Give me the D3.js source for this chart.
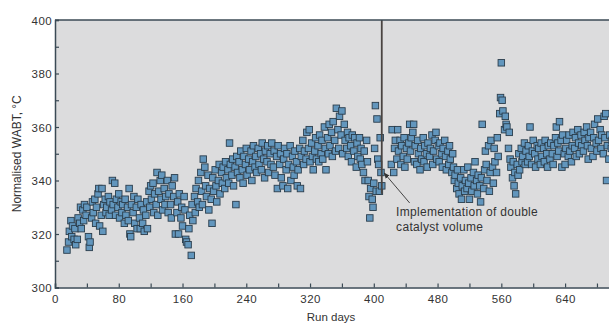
<!DOCTYPE html>
<html>
<head>
<meta charset="utf-8">
<script src="https://cdn.jsdelivr.net/npm/d3@7"></script>
<style>
  body { margin: 0; background: #fff; }
  svg { display: block; font-family: "Liberation Sans", Arial, sans-serif; }
</style>
</head>
<body>
<svg id="chart" width="609" height="325"></svg>
<script>
// first run day with a reading, then one WABT value per day (null = no reading)
const firstDay = 15;
const wabt = [
  314, null, 317, 321, null, 325, 319, 323, null, 318,
  322, 316, null, 318, 326, null, 324, 330, 322, null,
  329, 325, 331, null, 327, 330, null, 319, 315, 317,
  null, 326, 332, 328, null, 333, 324, 330, null, 335,
  337, 323, null, 327, 337, 321, 331, null, 333, 328,
  330, null, 334, 327, 332, null, 329, 340, 331, null,
  339, 327, 333, null, 330, 335, 326, null, 332, 328,
  331, null, 324, 333, 327, null, 330, 325, 337, 320,
  319, 331, null, 328, 334, 324, null, 330, 322, 333,
  null, 326, 322, 331, null, 324, 329, 321, null, 327,
  332, 322, null, 336, 330, 338, 333, null, 339, 328,
  335, null, 331, 343, 327, 336, null, 340, 333, 342,
  329, null, 337, 331, 334, null, 340, 328, 335, null,
  331, 326, 338, null, 334, 341, 320, null, 328, 332,
  320, 335, null, 326, 330, 323, null, 334, 329, 318,
  317, null, 316, 322, 327, null, 312, 331, 325, null,
  334, 328, 337, null, 332, 340, 330, null, 343, 336,
  331, 348, null, 345, 338, 334, null, 342, 329, 337,
  null, 333, 324, 341, 336, null, 344, 338, 332, null,
  340, 346, 335, null, 343, 339, 345, null, 337, 347,
  341, null, 344, 339, 354, 346, null, 342, 348, 338,
  null, 345, 331, 349, 343, null, 347, 341, 351, null,
  344, 339, 349, null, 346, 352, 342, null, 348, 344,
  null, 351, 340, 347, 353, null, 345, 349, 343, null,
  352, 346, null, 350, 344, 354, null, 348, 341, 351,
  null, 347, 353, 343, null, 350, 346, 354, null, 345,
  351, 342, null, 349, 337, 353, null, 346, 350, 341,
  null, 338, 348, 352, null, 344, 350, 337, 346, null,
  353, 340, null, 349, 345, 342, 351, null, 347, 338,
  344, null, 352, 337, 349, null, 355, 346, 351, null,
  348, 358, null, 352, 359, 347, null, 354, 349, 344,
  null, 351, 356, 348, null, 353, 347, 357, null, 350,
  355, 348, null, 360, 352, 344, null, 356, 350, 361,
  353, null, 358, 349, 362, null, 355, 351, 367, null,
  359, 352, 364, null, 357, 366, 350, null, 361, 355,
  null, 352, 358, 349, 356, null, 353, 347, 357, null,
  351, 356, null, 345, 354, 349, null, 356, 348, 352,
  346, null, 343, 351, 340, null, 355, 347, 340, 334,
  326, 337, null, 333, 330, 339, 352, 368, 336, 363,
  348, 346, 336, 356, 343, 338,
  null, null, null, null, null, null, null, null, null, null, null,
  346, 359, null, 343, 352, 355, null, 348, 359, 351,
  null, 355, 346, 353, null, 349, 356, 345, null, 352,
  348, null, 354, 361, 351, 356, null, 358, 361, 347,
  353, null, 346, 355, 350, null, 344, 352, 348, null,
  356, 347, 353, null, 350, 345, 354, null, 349, 352,
  null, 357, 346, 351, null, 355, 358, 348, null, 353,
  347, 354, null, 350, 345, 352, null, 355, 349, 344,
  null, 351, 346, 353, 348, null, 343, 350, 345, 340,
  342, null, 337, 344, 339, 335, null, 341, 333, 338,
  null, 344, 336, 340, null, 337, 345, 339, 333, null,
  341, 336, null, 343, 338, 347, null, 340, 335, 342,
  null, 338, 332, 341, 361, null, 337, 344, 351, 346,
  340, null, 353, 336, 343, 355, null, 345, 339, 352,
  347, null, 343, 356, 349, null, 365, 371, 384, 370,
  366, null, 359, 364, 361, 360, null, 352, 358, 348,
  345, null, 341, 347, 338, 343, 335, null, 346, 342,
  350, 344, null, 352, 347, 349, null, 354, 346, 351,
  null, 347, 353, 349, 360, null, 346, 351, 355, null,
  350, 345, null, 353, 348, 352, null, 346, 354, 349,
  null, 352, 347, 355, null, 350, 345, 353, null, 348,
  354, null, 350, 346, 353, null, 356, 360, 349, 354,
  351, 362, null, 355, 345, 357, null, 350, 346, 352,
  355, null, 349, 357, 351, null, 347, 353, 358, null,
  352, 356, 349, null, 359, 354, 350, null, 357, 353,
  null, 351, 358, 355, null, 360, 353, 348, 356, null,
  358, 352, null, 349, 356, 361, null, 354, 351, 363,
  355, null, 359, 352, 357, null, 350, 364, 356, 365,
  340, 353, null, 348, 357, null, 352, 355, 349, 353
];

const xTicks = [0, 80, 160, 240, 320, 400, 480, 560, 640];
const yTicks = [300, 320, 340, 360, 380, 400];
const changeDay = 410;          // double catalyst volume put in
const changeLineTo = 335;       // where the marker line stops
const noteLines = ["Implementation of double", "catalyst volume"];

const points = wabt
  .map((v, i) => ({ day: firstDay + i, value: v }))
  .filter(d => d.value !== null);

const svg = d3.select("#chart");
const mLeft = 55, mTop = 20, mBottom = 287.5;

const x = d3.scaleLinear().domain([0, 720]).range([mLeft, mLeft + 720 * 0.797]);
const y = d3.scaleLinear().domain([300, 400]).range([mBottom, mTop]);

// plot background
svg.append("rect")
  .attr("x", mLeft).attr("y", mTop)
  .attr("width", 609 - mLeft).attr("height", mBottom - mTop)
  .attr("fill", "#dcdcdd");

// squares
const s = 6.5;
svg.append("g")
  .selectAll("rect")
  .data(points)
  .enter()
  .append("rect")
  .attr("x", d => x(d.day) - s / 2)
  .attr("y", d => y(d.value) - s / 2)
  .attr("width", s).attr("height", s)
  .attr("fill", "#6296bd")
  .attr("stroke", "#2a3d4c")
  .attr("stroke-width", 0.9);

// marker line for catalyst change
svg.append("line")
  .attr("x1", x(changeDay)).attr("x2", x(changeDay))
  .attr("y1", y(400)).attr("y2", y(changeLineTo))
  .attr("stroke", "#4a4441").attr("stroke-width", 1.8);

// axes
const yAxis = d3.axisLeft(y).tickValues(d3.range(300, 401, 10)).tickSize(-4).tickPadding(3)
  .tickFormat(d => yTicks.includes(d) ? d : "");
const xAxis = d3.axisBottom(x).tickValues(d3.range(0, 681, 40)).tickSize(-4).tickPadding(7)
  .tickFormat(d => xTicks.includes(d) ? d : "");

const gy = svg.append("g").attr("transform", `translate(${mLeft},0)`).call(yAxis);
const gx = svg.append("g").attr("transform", `translate(0,${mBottom})`).call(xAxis);

[gx, gy].forEach(g => {
  g.select(".domain").attr("stroke", "#3b4a55").attr("stroke-width", 1.5);
  g.selectAll(".tick line").attr("stroke", "#3b4a55").attr("stroke-width", 1.2);
  g.selectAll(".tick text").attr("fill", "#333").style("font-size", "11.5px")
    .style("letter-spacing", "0.4px")
    .style("font-family", "'Liberation Sans', Arial, sans-serif");
});
gy.selectAll(".tick text").attr("dy", "0.35em");

// top frame line
svg.append("line")
  .attr("x1", mLeft).attr("x2", 609)
  .attr("y1", mTop).attr("y2", mTop)
  .attr("stroke", "#3b4a55").attr("stroke-width", 1.5);

// axis titles
svg.append("text")
  .attr("transform", `translate(17,${(mTop + mBottom) / 2}) rotate(-90)`)
  .attr("text-anchor", "middle").attr("dy", "0.35em")
  .attr("fill", "#333").style("font-size", "12px")
  .text("Normalised WABT, °C");

svg.append("text")
  .attr("x", 331).attr("y", 321)
  .attr("text-anchor", "middle")
  .attr("fill", "#333").style("font-size", "11.5px")
  .text("Run days");

// annotation with arrow
svg.append("defs").append("marker")
  .attr("id", "head").attr("viewBox", "0 0 10 10")
  .attr("refX", 9).attr("refY", 5)
  .attr("markerWidth", 6).attr("markerHeight", 6)
  .attr("orient", "auto")
  .append("path").attr("d", "M0,1 L10,5 L0,9 Z").attr("fill", "#333");

svg.append("line")
  .attr("x1", x(445)).attr("y1", y(331.6))
  .attr("x2", x(413)).attr("y2", y(342.8))
  .attr("stroke", "#444").attr("stroke-width", 1)
  .attr("marker-end", "url(#head)");

svg.append("g").selectAll("text")
  .data(noteLines)
  .enter()
  .append("text")
  .attr("x", x(428))
  .attr("y", (d, i) => y(326.8) + i * 15.5)
  .attr("fill", "#333").style("font-size", "12px")
  .style("letter-spacing", "0.3px")
  .text(d => d);
</script>
</body>
</html>
